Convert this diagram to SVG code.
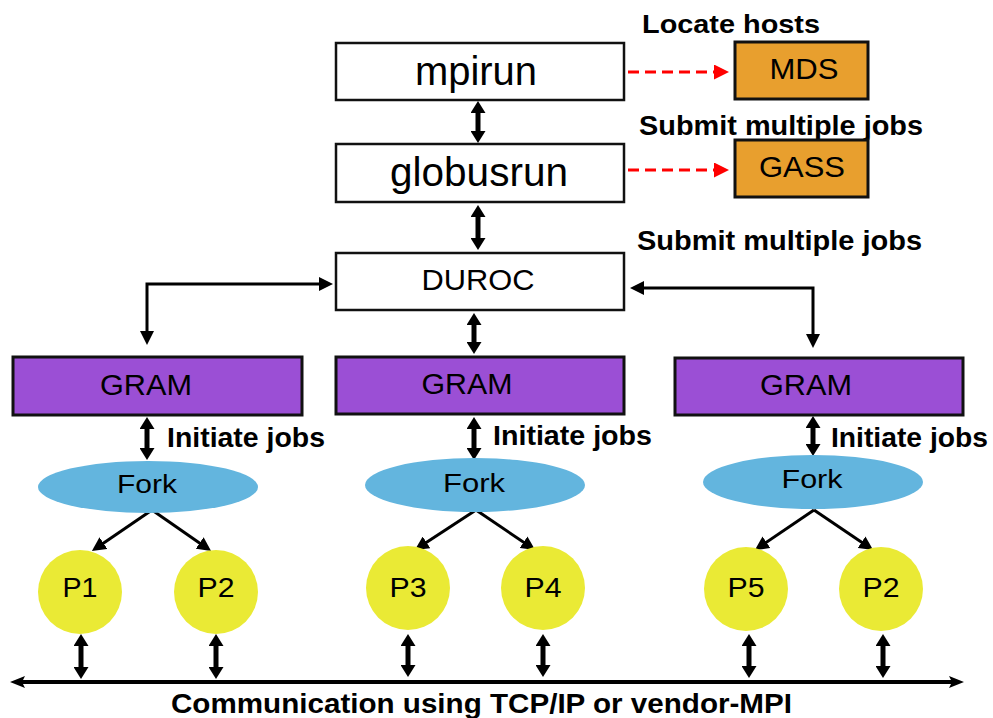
<svg xmlns="http://www.w3.org/2000/svg" width="993" height="718" viewBox="0 0 993 718">
  <defs>
    <style>
      .box { fill: #ffffff; stroke: #111; stroke-width: 2.5; }
      .svc { fill: #E89F2E; stroke: #111; stroke-width: 3; }
      .gram { fill: #9B4FD5; stroke: #111; stroke-width: 3; }
      .fork { fill: #63B5DE; }
      .proc { fill: #EAEA35; }
      .node { font-family: "Liberation Sans", Arial, sans-serif; fill: #000; text-anchor: middle; }
      .lbl { font-family: "Liberation Sans", Arial, sans-serif; font-weight: bold; fill: #000; }
      .dbl { stroke: #000; stroke-width: 5; fill: none; marker-start: url(#dblHead); marker-end: url(#dblHead); }
      .link { stroke: #000; stroke-width: 3; fill: none; }
      .req { stroke: #FF0000; stroke-width: 3; stroke-dasharray: 11 6; fill: none; marker-end: url(#redHead); }
      .bus { stroke: #000; stroke-width: 4; fill: none; marker-start: url(#busHead); marker-end: url(#busHead); }
    </style>
    <marker id="dblHead" viewBox="0 0 12 15" refX="3" refY="7.5" markerWidth="12" markerHeight="15" markerUnits="userSpaceOnUse" orient="auto-start-reverse">
      <path d="M0,0 L12,7.5 L0,15 z" fill="#000"/>
    </marker>
    <marker id="head" viewBox="0 0 14 14" refX="9" refY="7" markerWidth="14" markerHeight="14" markerUnits="userSpaceOnUse" orient="auto-start-reverse">
      <path d="M0,0 L14,7 L0,14 z" fill="#000"/>
    </marker>
    <marker id="redHead" viewBox="0 0 15 15" refX="10" refY="7.5" markerWidth="15" markerHeight="15" markerUnits="userSpaceOnUse" orient="auto">
      <path d="M0,0 L15,7.5 L0,15 z" fill="#FF0000"/>
    </marker>
    <marker id="busHead" viewBox="0 0 15 12" refX="9" refY="6" markerWidth="15" markerHeight="12" markerUnits="userSpaceOnUse" orient="auto-start-reverse">
      <path d="M0,0 L15,6 L0,12 L3,6 z" fill="#000"/>
    </marker>
  </defs>

  <rect width="993" height="718" fill="#ffffff"/>

  <!-- connectors -->
  <g id="connectors">
    <line class="req" x1="628" y1="72" x2="724" y2="72"/>
    <line class="req" x1="628" y1="170" x2="724" y2="170"/>
    <line class="dbl" x1="478" y1="110" x2="478" y2="134"/>
    <line class="dbl" x1="478" y1="214" x2="478" y2="241"/>
    <line class="dbl" x1="474" y1="322" x2="474" y2="345"/>
    <path class="link" d="M328,284 H147 V340" marker-start="url(#head)" marker-end="url(#head)"/>
    <path class="link" d="M635,288 H813 V343" marker-start="url(#head)" marker-end="url(#head)"/>
    <line class="dbl" x1="147" y1="426" x2="147" y2="451"/>
    <line class="dbl" x1="474" y1="426" x2="474" y2="451"/>
    <line class="dbl" x1="813" y1="425" x2="813" y2="447"/>
    <line class="link" x1="152" y1="510" x2="96" y2="548.2" marker-end="url(#head)"/>
    <line class="link" x1="152" y1="510" x2="207" y2="548.2" marker-end="url(#head)"/>
    <line class="link" x1="476" y1="510" x2="419" y2="547.3" marker-end="url(#head)"/>
    <line class="link" x1="476" y1="510" x2="531" y2="547.3" marker-end="url(#head)"/>
    <line class="link" x1="814" y1="510" x2="759" y2="547.3" marker-end="url(#head)"/>
    <line class="link" x1="814" y1="510" x2="869" y2="547.3" marker-end="url(#head)"/>
    <line class="dbl" x1="81" y1="643" x2="81" y2="670"/>
    <line class="dbl" x1="216" y1="643" x2="216" y2="670"/>
    <line class="dbl" x1="408" y1="643" x2="408" y2="668"/>
    <line class="dbl" x1="543" y1="643" x2="543" y2="668"/>
    <line class="dbl" x1="749" y1="643" x2="749" y2="669"/>
    <line class="dbl" x1="883" y1="643" x2="883" y2="669"/>
    <line class="bus" x1="16" y1="682" x2="958" y2="682"/>
  </g>

  <!-- labels on the connectors -->
  <g id="labels">
    <text class="lbl" x="642" y="33" font-size="26" textLength="178" lengthAdjust="spacingAndGlyphs">Locate hosts</text>
    <text class="lbl" x="639" y="135" font-size="28" textLength="284" lengthAdjust="spacingAndGlyphs">Submit multiple jobs</text>
    <text class="lbl" x="637" y="250" font-size="28" textLength="285" lengthAdjust="spacingAndGlyphs">Submit multiple jobs</text>
    <text class="lbl" x="167" y="447" font-size="28" textLength="158" lengthAdjust="spacingAndGlyphs">Initiate jobs</text>
    <text class="lbl" x="493" y="445" font-size="28" textLength="159" lengthAdjust="spacingAndGlyphs">Initiate jobs</text>
    <text class="lbl" x="831" y="447" font-size="28" textLength="157" lengthAdjust="spacingAndGlyphs">Initiate jobs</text>
    <text class="lbl" x="171" y="713" font-size="28" textLength="621" lengthAdjust="spacingAndGlyphs">Communication using TCP/IP or vendor-MPI</text>
  </g>

  <g id="mpirun">
    <rect class="box" x="336" y="43" width="288" height="57"/>
    <text class="node" x="476" y="85" font-size="40" textLength="122" lengthAdjust="spacingAndGlyphs">mpirun</text>
  </g>
  <g id="globusrun">
    <rect class="box" x="336" y="144" width="288" height="58"/>
    <text class="node" x="479" y="186" font-size="40" textLength="178" lengthAdjust="spacingAndGlyphs">globusrun</text>
  </g>
  <g id="duroc">
    <rect class="box" x="336" y="253" width="288" height="57"/>
    <text class="node" x="478" y="290" font-size="30" textLength="113" lengthAdjust="spacingAndGlyphs">DUROC</text>
  </g>
  <g id="mds">
    <rect class="svc" x="735" y="42" width="133" height="57"/>
    <text class="node" x="804" y="79" font-size="30" textLength="69" lengthAdjust="spacingAndGlyphs">MDS</text>
  </g>
  <g id="gass">
    <rect class="svc" x="735" y="140" width="133" height="57"/>
    <text class="node" x="802" y="177" font-size="30" textLength="86" lengthAdjust="spacingAndGlyphs">GASS</text>
  </g>

  <g id="gram1">
    <rect class="gram" x="13" y="357" width="289" height="58"/>
    <text class="node" x="146" y="395" font-size="29" textLength="92" lengthAdjust="spacingAndGlyphs">GRAM</text>
  </g>
  <g id="gram2">
    <rect class="gram" x="336" y="357" width="288" height="57"/>
    <text class="node" x="467" y="394" font-size="29" textLength="91" lengthAdjust="spacingAndGlyphs">GRAM</text>
  </g>
  <g id="gram3">
    <rect class="gram" x="675" y="358" width="288" height="57"/>
    <text class="node" x="806" y="395" font-size="29" textLength="92" lengthAdjust="spacingAndGlyphs">GRAM</text>
  </g>

  <g id="fork1">
    <ellipse class="fork" cx="148" cy="487" rx="110" ry="26"/>
    <text class="node" x="147" y="493" font-size="26" textLength="60" lengthAdjust="spacingAndGlyphs">Fork</text>
  </g>
  <g id="fork2">
    <ellipse class="fork" cx="475" cy="485" rx="110" ry="27"/>
    <text class="node" x="474" y="492" font-size="26" textLength="62" lengthAdjust="spacingAndGlyphs">Fork</text>
  </g>
  <g id="fork3">
    <ellipse class="fork" cx="813" cy="482" rx="110" ry="27"/>
    <text class="node" x="812" y="488" font-size="26" textLength="61" lengthAdjust="spacingAndGlyphs">Fork</text>
  </g>

  <g id="p1">
    <circle class="proc" cx="80" cy="592" r="42"/>
    <text class="node" x="80" y="597" font-size="28" textLength="35" lengthAdjust="spacingAndGlyphs">P1</text>
  </g>
  <g id="p2a">
    <circle class="proc" cx="216" cy="592" r="42"/>
    <text class="node" x="216" y="597" font-size="28" textLength="37" lengthAdjust="spacingAndGlyphs">P2</text>
  </g>
  <g id="p3">
    <circle class="proc" cx="408" cy="588" r="42"/>
    <text class="node" x="408" y="597" font-size="28" textLength="37" lengthAdjust="spacingAndGlyphs">P3</text>
  </g>
  <g id="p4">
    <circle class="proc" cx="543" cy="588" r="42"/>
    <text class="node" x="543" y="597" font-size="28" textLength="37" lengthAdjust="spacingAndGlyphs">P4</text>
  </g>
  <g id="p5">
    <circle class="proc" cx="746" cy="589" r="42"/>
    <text class="node" x="746" y="597" font-size="28" textLength="37" lengthAdjust="spacingAndGlyphs">P5</text>
  </g>
  <g id="p2b">
    <circle class="proc" cx="881" cy="589" r="42"/>
    <text class="node" x="881" y="597" font-size="28" textLength="37" lengthAdjust="spacingAndGlyphs">P2</text>
  </g>
</svg>
